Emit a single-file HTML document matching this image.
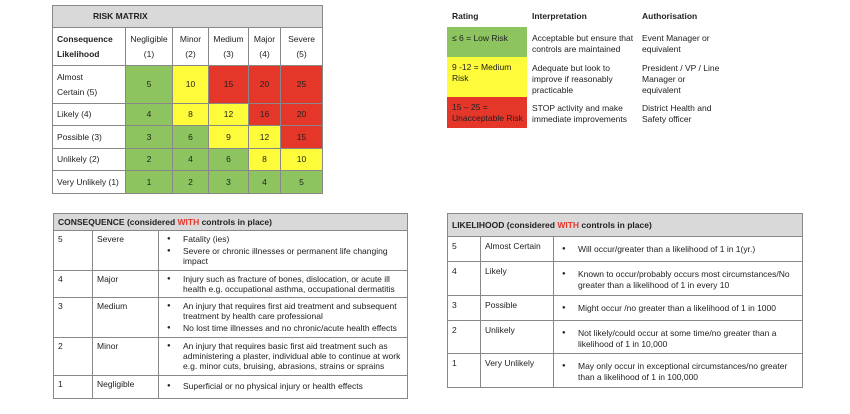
<!DOCTYPE html>
<html><head><style>
body{margin:0;width:850px;height:414px;background:#fff;position:relative;font-family:"Liberation Sans",sans-serif;font-size:8.5px;color:#222;overflow:hidden}
table{position:absolute;border-collapse:collapse;table-layout:fixed}
td{border:1px solid #888;padding:0 4px;vertical-align:middle;line-height:11px}
.g{background:#8dc45f}.y{background:#fdfb3a}.r{background:#e5362a}
.c td.n{text-align:center}
.hd{background:#d9d9d9;font-weight:bold}
.w{color:#e5362a}
.b td{vertical-align:top;padding-top:4px;padding-bottom:0}
.cq td{line-height:10px;padding-top:3px}
ul{margin:0;padding:0;list-style:none}
li{position:relative;padding-left:16px;margin-bottom:3px}
.cq li{margin-bottom:2px}
li:before{content:"●";position:absolute;left:0;font-size:6px;top:0}
.abs{position:absolute;line-height:11px}
</style></head><body>

<table class="c" style="left:52px;top:5px;width:270px">
<colgroup><col style="width:73px"><col style="width:47px"><col style="width:36px"><col style="width:40px"><col style="width:32px"><col style="width:42px"></colgroup>
<tr style="height:22px"><td colspan="6" class="hd" style="padding-left:40px">RISK MATRIX</td></tr>
<tr style="height:38px"><td style="font-weight:bold;line-height:15px">Consequence<br>Likelihood</td><td class="n" style="line-height:15px">Negligible<br>(1)</td><td class="n" style="line-height:15px">Minor<br>(2)</td><td class="n" style="line-height:15px">Medium<br>(3)</td><td class="n" style="line-height:15px">Major<br>(4)</td><td class="n" style="line-height:15px">Severe<br>(5)</td></tr>
<tr style="height:38px"><td style="line-height:15px">Almost<br>Certain (5)</td><td class="n g">5</td><td class="n y">10</td><td class="n r">15</td><td class="n r">20</td><td class="n r">25</td></tr>
<tr style="height:22px"><td>Likely (4)</td><td class="n g">4</td><td class="n y">8</td><td class="n y">12</td><td class="n r">16</td><td class="n r">20</td></tr>
<tr style="height:23px"><td>Possible (3)</td><td class="n g">3</td><td class="n g">6</td><td class="n y">9</td><td class="n y">12</td><td class="n r">15</td></tr>
<tr style="height:22px"><td>Unlikely (2)</td><td class="n g">2</td><td class="n g">4</td><td class="n g">6</td><td class="n y">8</td><td class="n y">10</td></tr>
<tr style="height:23px"><td>Very Unlikely (1)</td><td class="n g">1</td><td class="n g">2</td><td class="n g">3</td><td class="n g">4</td><td class="n g">5</td></tr>
</table>

<div class="abs" style="left:452px;top:11px;font-weight:bold">Rating</div>
<div class="abs" style="left:532px;top:11px;font-weight:bold">Interpretation</div>
<div class="abs" style="left:642px;top:11px;font-weight:bold">Authorisation</div>
<div class="abs g" style="left:447px;top:27px;width:75px;height:30px;padding-left:5px;box-sizing:content-box"><div style="padding-top:6px">≤ 6 = Low Risk</div></div>
<div class="abs y" style="left:447px;top:57px;width:75px;height:40px;padding-left:5px"><div style="padding-top:5px">9 -12 = Medium<br>Risk</div></div>
<div class="abs r" style="left:447px;top:97px;width:75px;height:31px;padding-left:5px"><div style="padding-top:5px">15 – 25 =<br>Unacceptable Risk</div></div>
<div class="abs" style="left:532px;top:33px">Acceptable but ensure that<br>controls are maintained</div>
<div class="abs" style="left:532px;top:63px">Adequate but look to<br>improve if reasonably<br>practicable</div>
<div class="abs" style="left:532px;top:103px">STOP activity and make<br>immediate improvements</div>
<div class="abs" style="left:642px;top:33px">Event Manager or<br>equivalent</div>
<div class="abs" style="left:642px;top:63px">President / VP / Line<br>Manager or<br>equivalent</div>
<div class="abs" style="left:642px;top:103px">District Health and<br>Safety officer</div>

<table class="b cq" style="left:53px;top:213px;width:355px">
<colgroup><col style="width:39px"><col style="width:66px"><col></colgroup>
<tr style="height:17px"><td colspan="3" class="hd" style="vertical-align:middle;padding-top:0">CONSEQUENCE (considered <span class="w">WITH</span> controls in place)</td></tr>
<tr style="height:40px"><td>5</td><td>Severe</td><td style="padding-left:8px"><ul><li>Fatality (ies)</li><li>Severe or chronic illnesses or permanent life changing impact</li></ul></td></tr>
<tr style="height:27px"><td>4</td><td>Major</td><td style="padding-left:8px"><ul><li>Injury such as fracture of bones, dislocation, or acute ill health e.g. occupational asthma, occupational dermatitis</li></ul></td></tr>
<tr style="height:40px"><td>3</td><td>Medium</td><td style="padding-left:8px"><ul><li>An injury that requires first aid treatment and subsequent treatment by health care professional</li><li>No lost time illnesses and no chronic/acute health effects</li></ul></td></tr>
<tr style="height:38px"><td>2</td><td>Minor</td><td style="padding-left:8px"><ul><li>An injury that requires basic first aid treatment such as administering a plaster, individual able to continue at work e.g. minor cuts, bruising, abrasions, strains or sprains</li></ul></td></tr>
<tr style="height:23px"><td>1</td><td>Negligible</td><td style="padding-left:8px;padding-top:5px"><ul><li>Superficial or no physical injury or health effects</li></ul></td></tr>
</table>

<table class="b" style="left:447px;top:213px;width:356px">
<colgroup><col style="width:33px"><col style="width:73px"><col></colgroup>
<tr style="height:23px"><td colspan="3" class="hd" style="vertical-align:middle;padding-top:0">LIKELIHOOD (considered <span class="w">WITH</span> controls in place)</td></tr>
<tr style="height:25px"><td>5</td><td>Almost Certain</td><td style="padding-left:8px;padding-top:7px"><ul><li>Will occur/greater than a likelihood of 1 in 1(yr.)</li></ul></td></tr>
<tr style="height:34px"><td>4</td><td>Likely</td><td style="padding-left:8px;padding-top:7px"><ul><li>Known to occur/probably occurs most circumstances/No greater than a likelihood of 1 in every 10</li></ul></td></tr>
<tr style="height:25px"><td>3</td><td>Possible</td><td style="padding-left:8px;padding-top:7px"><ul><li>Might occur /no greater than a likelihood of 1 in 1000</li></ul></td></tr>
<tr style="height:33px"><td>2</td><td>Unlikely</td><td style="padding-left:8px;padding-top:7px"><ul><li>Not likely/could occur at some time/no greater than a likelihood of 1 in 10,000</li></ul></td></tr>
<tr style="height:34px"><td>1</td><td>Very Unlikely</td><td style="padding-left:8px;padding-top:7px"><ul><li>May only occur in exceptional circumstances/no greater than a likelihood of 1 in 100,000</li></ul></td></tr>
</table>
</body></html>
